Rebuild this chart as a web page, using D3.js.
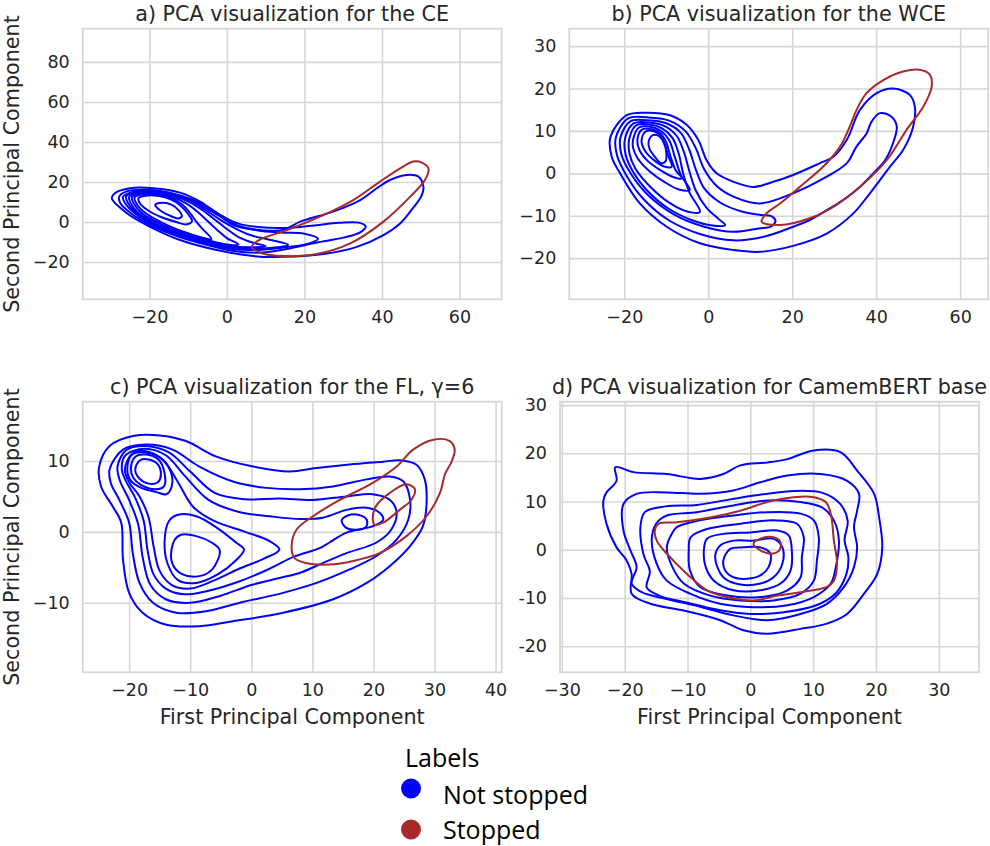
<!DOCTYPE html>
<html><head><meta charset="utf-8">
<script src="https://cdn.jsdelivr.net/npm/d3@7"></script>
<style>body{margin:0;background:#fff}svg{display:block}</style>
</head><body><svg id="chart" width="990" height="846"></svg>
<script>
// ---------- DATA (contour rings in data coordinates) ----------
const hueLabels = ["Not stopped", "Stopped"];

const ceXTicks = [-20, 0, 20, 40, 60];
const ceYTicks = [-20, 0, 20, 40, 60, 80];
const wceXTicks = [-20, 0, 20, 40, 60];
const wceYTicks = [-20, -10, 0, 10, 20, 30];
const flXTicks = [-20, -10, 0, 10, 20, 30, 40];
const flYTicks = [-10, 0, 10];
const camXTicks = [-30, -20, -10, 0, 10, 20, 30];
const camYTicks = [-20, -10, 0, 10, 20, 30];

const ceNotStopped = [
 [[-29.7,11.9],[-28.9,14.4],[-25,16.9],[-19,16.9],[-12.1,14.7],[-6.9,10.2],[-2.6,4.4],[1.7,-1.5],[8.6,-4],[14.6,-4],[18.9,0.2],[27.4,5.2],[34.4,11],[38.7,16.9],[42.1,21],[46.4,23.5],[49.4,22.7],[50.7,17.7],[50.3,13.5],[47.3,5.2],[44.7,-0.7],[40.4,-6.5],[33.5,-12.4],[25.8,-15.7],[14.6,-17.4],[6.8,-17],[-2.6,-14],[-12.1,-9],[-19.8,-2.4],[-25.8,4.4]],
 [[-27.8,12.6],[-26,15.2],[-20,16],[-14,14.3],[-9,11.3],[-5,7.5],[-1,2.8],[3,-0.8],[8,-2.5],[15,-3],[22,-1.8],[29,-0.4],[34,-0.3],[35.8,-2.2],[34.5,-5],[30,-7.8],[23,-10.3],[15,-13.6],[8,-15.3],[1,-14.2],[-5,-11.5],[-12,-7.6],[-19,-2.3],[-24.5,4],[-27.5,9.5]],
 [[-26.8,12.6],[-24,15.2],[-19,15.5],[-14,14],[-9,10.8],[-5,6.5],[-1,2],[3,-2],[8,-4.2],[14,-5.2],[20,-5.8],[23.5,-8.3],[21,-10.8],[14,-12.8],[7,-14],[1,-13.3],[-5,-10.8],[-12,-7],[-18.5,-2],[-23.5,4],[-26.3,9.5]],
 [[-26,12.8],[-23,15],[-18.5,15],[-13.5,13.5],[-9,10.3],[-5.5,6],[-2,1.5],[2,-3],[6,-6.5],[11,-8.8],[15.8,-11.3],[13,-12.6],[7,-13.3],[1,-12.6],[-5,-10.2],[-12,-6.5],[-18,-1.8],[-23,4],[-25.5,9.5]],
 [[-25.2,12.7],[-22.5,14.7],[-18,14.7],[-13.5,13],[-9.5,9.8],[-6,5.5],[-3,1],[0,-3.5],[3,-7.5],[7,-10.5],[10,-12],[6,-12.6],[0,-11.8],[-5,-9.6],[-11.5,-6],[-17.5,-1.5],[-22.5,4],[-24.8,9.3]],
 [[-24.5,12.6],[-22,14.3],[-18,14.2],[-14,12.5],[-10.5,9.3],[-7.5,5],[-5,0.5],[-2.5,-4],[0,-8],[3,-11.2],[0,-11.2],[-5,-9],[-11,-5.5],[-17,-1],[-21.8,4.2],[-24,9.2]],
 [[-23.8,12.4],[-21.5,13.9],[-18,13.8],[-14.5,12],[-11.5,8.8],[-9.5,4.5],[-8,0.5],[-6.5,-3],[-4,-8.5],[-7,-7.5],[-11,-5],[-16.5,-0.5],[-21,4.5],[-23.3,9.2]],
 [[-22.8,12],[-20.5,13.3],[-17.5,13],[-14.5,11.3],[-12,8.3],[-10,4],[-9,0.5],[-10.5,-1.2],[-13,0],[-17,2.5],[-20.5,6],[-22.5,9.5]],
 [[-18.5,8.5],[-16.5,9.6],[-14.2,8.6],[-12.5,6],[-11.6,3],[-12.5,1.8],[-14.5,3],[-17,5.5]]
];
const ceStopped = [
 [[6.4,-12.4],[8.5,-8.8],[15.5,-4],[24,2.7],[32.6,11],[39.5,20.2],[44.7,26.8],[48.1,30.2],[50.3,29.7],[52,26.8],[51.1,21],[47.3,12.7],[40.4,0.2],[31.8,-10.7],[23.2,-16],[14.6,-17],[9,-15.6]]
];

const wceNotStopped = [
 [[-23.3,8.6],[-19.4,13.7],[-14.7,14.3],[-9.1,13.7],[-5.1,11.4],[-2.4,7.9],[-0.4,3.1],[2,0],[6,-2],[10.7,-3.2],[15.5,-2],[20.2,-0.4],[26.6,2.4],[29.8,3.9],[33,7.9],[36.1,14.9],[40.1,18.9],[44,20],[48,18.5],[49.2,15.7],[48.8,11],[46.4,5.5],[43.3,1.6],[38.5,-4.7],[34.5,-9.5],[28.2,-14.2],[20.2,-17.1],[12.3,-18.5],[6,-18.1],[-2,-16.5],[-9.9,-12.6],[-16.3,-7.1],[-21,0],[-23,3.9]],
 [[-22,8.5],[-19,13],[-14.5,13.2],[-9.5,12.5],[-5.5,10],[-3,6],[-1,1],[2,-3],[6,-5.5],[12.3,-7.1],[20.2,-4.7],[28.2,-0.8],[33,2.4],[35.3,6.3],[37.7,9.4],[38.9,12.2],[40.9,14.2],[43.7,13.3],[44.9,11],[44,7.1],[42.1,3.1],[39.3,0],[36.1,-3.2],[32.1,-6.3],[28.2,-8.7],[24.2,-11],[20.2,-12.6],[13,-15],[6,-15.8],[-2,-14.3],[-9.5,-11],[-15.5,-6],[-19.5,-0.5],[-21.8,4.5]],
 [[-20.9,8.5],[-18.5,12.3],[-14.5,12.5],[-10,11.8],[-6.5,9.5],[-4.5,5.5],[-3,1],[-1,-3.5],[3,-7],[8,-9],[12.5,-9.8],[15,-10.1],[16,-11.2],[15,-12.5],[12,-13],[6,-13.8],[-1,-12.6],[-8,-9.8],[-14.5,-5],[-18.5,0],[-20.7,4.5]],
 [[-19.8,8.3],[-17.8,11.8],[-14.3,12],[-10.5,11.2],[-7.5,8.8],[-5.8,5],[-4.5,0.5],[-3,-4],[-0.5,-8],[2.5,-10.8],[4,-12.2],[1,-12.3],[-4,-11],[-9.5,-8.3],[-14.8,-3.8],[-18,0.5],[-19.7,4.5]],
 [[-18.8,8.2],[-17.2,11.3],[-14,11.5],[-11,10.6],[-8.5,8.3],[-7,4.5],[-6,0],[-4.5,-4.5],[-2,-9.1],[-5,-9],[-9.5,-6.8],[-14,-3],[-17.3,1],[-18.8,4.8]],
 [[-17.9,8],[-16.5,10.8],[-13.8,11],[-11.3,10],[-9.3,7.8],[-8,4],[-6.5,-0.5],[-4.4,-3.9],[-7,-3.8],[-10.5,-2],[-14,0.5],[-16.8,3.5],[-17.9,6]],
 [[-16.9,7.8],[-15.8,10.3],[-13.5,10.4],[-11.5,9.5],[-10,7.3],[-9,4],[-7.8,0.8],[-6.3,-1.2],[-8.5,-0.8],[-11.5,0.8],[-14.5,3],[-16.4,5.5]],
 [[-15.9,7.6],[-15,9.8],[-13.2,10],[-11.5,9],[-10.4,7],[-9.6,4.3],[-8.7,1.6],[-10.5,1.6],[-12.8,3],[-15,5.2]],
 [[-14.2,7.5],[-13.2,9],[-11.8,8.8],[-10.6,7.2],[-10,5],[-10.2,2.8],[-11.3,2.4],[-12.8,4],[-14,5.8]]
];
const wceStopped = [
 [[12.7,-11.4],[13.9,-9.4],[17.1,-7.1],[21.8,-3.2],[27.4,1.6],[31.4,6.3],[33.7,11],[35.3,14.9],[37.7,18.9],[41.7,22],[46.4,24],[50.4,24.4],[52.8,23.2],[53.2,20.4],[51.2,15.7],[47.2,10.2],[42.5,3.1],[36.1,-3.2],[29.8,-7.9],[24.2,-10.6],[17.1,-12.2]]
];

const flNotStopped = [
 [[-24.9,9.2],[-23.2,12.1],[-19.4,13.5],[-15,13.6],[-10.7,12.8],[-5.7,10.6],[0.3,9.2],[6.3,8.5],[10.7,9],[16.1,9.5],[21.6,9.9],[24.3,10.1],[27,9.5],[28.4,7.4],[28.7,4.1],[28.1,0.8],[26,-2],[22.7,-4.8],[18.9,-7.2],[13.4,-9.5],[5.2,-11.4],[-3,-12.6],[-8.5,-13.3],[-13.9,-13.1],[-17.8,-11.4],[-20,-8.6],[-21,-3.9],[-21.3,1.3],[-22.7,3.6],[-24.6,6.4]],
 [[-23.2,8.8],[-21,11.6],[-17.2,12.3],[-12.9,11.6],[-8.5,9.2],[-3,7.1],[2.5,6.2],[7.9,6],[13.4,6.4],[18.9,7.4],[22.7,7.8],[24.9,7.1],[26,4.5],[25.7,1.7],[23.8,-1.1],[20.5,-3.4],[16.1,-5.3],[10.7,-7.2],[5.2,-8.6],[-1.9,-10],[-7.4,-11.2],[-12.3,-11.4],[-16.1,-10],[-18.3,-7.2],[-19.4,-3],[-20,1.3],[-21.6,4.5],[-23,6.9]],
 [[-21.9,9.2],[-20.5,11.5],[-17.5,12.1],[-13.5,11.2],[-10,8.5],[-6,5.5],[-1,4.6],[4.6,4.7],[10.1,4.5],[15.6,5],[19.9,5.3],[22.7,4.5],[23.8,2.7],[22.9,0.3],[20.5,-1.5],[15.6,-3],[11.7,-4.4],[7.9,-5.8],[4.6,-6.5],[0,-7.5],[-5,-9],[-10,-10],[-14,-9.5],[-16.5,-7.5],[-17.8,-3.5],[-18.5,1],[-20,4.5],[-21.5,7.2]],
 [[-21.2,8.8],[-20.6,10.8],[-17.5,11.7],[-14,10.8],[-11,8],[-7,4.5],[-2,2.8],[3,2.2],[8,1.8],[11.7,2],[15.6,3.1],[18.9,3.4],[21,2.7],[21.6,1.7],[19.9,0.8],[15.6,-0.1],[12.8,-1.5],[11.2,-2.3],[7,-3.5],[3,-5.2],[-2,-7],[-7,-8.3],[-11,-8.8],[-14,-8],[-16,-6],[-17,-2.5],[-17.6,1.5],[-19,4.8],[-20.6,7.3]],
 [[-20.7,8.8],[-19.5,11],[-17.5,11.4],[-14.5,10.2],[-12,7],[-9.5,3.5],[-6,1.5],[-1,0],[3,-1.3],[4.6,-2.5],[2,-3.8],[-2,-5.2],[-6,-6.8],[-10,-8],[-13,-7.5],[-15,-5.5],[-16,-2],[-16.8,2],[-18.3,5],[-20,7]],
 [[14.8,1.6],[15.8,2.3],[17.5,2.4],[18.9,1.7],[18.8,0.7],[17.2,0.3],[15.5,0.6]],
 [[-14.2,-1.5],[-13.5,1.5],[-12,2.4],[-9,2.2],[-5.5,0.5],[-2.5,-1.5],[-1.2,-2.5],[-2.5,-4],[-5.5,-6],[-9,-7.2],[-12,-6.8],[-13.7,-4.5]],
 [[-13.1,-3.9],[-12.6,-1.2],[-11.5,-0.4],[-9,-0.6],[-6.5,-1.5],[-5.2,-2.5],[-5.6,-4.2],[-7.1,-5.8],[-9.8,-6.3],[-12,-5.6]],
 [[-20.3,9],[-19.5,10.9],[-17.5,11.2],[-15,10.5],[-13.2,8.5],[-13,6.5],[-13.9,5.3],[-15.5,5.6],[-18,6.2],[-19.8,7.3]],
 [[-19.7,8.9],[-19,10.6],[-17.3,10.9],[-15.2,10.2],[-14.2,8.3],[-14.3,6.4],[-15.7,6],[-18,6.6],[-19.3,7.6]],
 [[-19,8.8],[-18.2,10.1],[-16.8,10.2],[-15.3,9.5],[-14.8,8],[-15.3,7],[-16.8,6.8],[-18.3,7.5]]
];
const flStopped = [
 [[6.6,-2],[7.4,0.3],[10.1,2.2],[14.5,4.5],[19.9,6.9],[23.8,9.2],[26.5,11.6],[29.8,13],[32.5,12.8],[33.3,11.6],[32.8,9.9],[31.7,8.1],[30.9,5.5],[28.7,2.2],[25.4,-0.6],[21,-3],[16.7,-4.1],[12.8,-4.6],[9,-4.4],[7.1,-3.7]],
 [[19.9,1.7],[20.4,3.6],[22.7,5.5],[25.4,6.7],[26.8,6],[26.2,4.5],[24.3,3.1],[21.6,1.3],[20.2,1]]
];

const camNotStopped = [
 [[-21.5,17.1],[-18.6,16.1],[-13.3,15.7],[-8,14.7],[-4.3,15.7],[-1.6,17.5],[2.7,18.1],[5.9,18.8],[10.1,20.6],[14.4,20.2],[17,16.4],[19.7,11.6],[20.5,6.7],[21,0.5],[20.2,-5],[18.1,-9.1],[15.4,-13.3],[12.2,-15.3],[8,-16.4],[2.7,-17.4],[-1.1,-16.7],[-4.8,-14.6],[-10.6,-12.6],[-15.9,-11.2],[-18.9,-9.1],[-18.9,-5],[-19.7,-2.2],[-21.3,0.5],[-22.9,5.4],[-23.4,10.2],[-22.9,11.9],[-21.3,14.3]],
 [[-20.2,9.5],[-18.1,11.6],[-13.3,11.9],[-8,11.6],[-2.7,12.3],[1.6,14],[5.9,15.4],[11.2,15.7],[15.4,14.3],[17.3,11.6],[17,8.1],[16.5,4.7],[17,0.5],[16.5,-3.6],[14.9,-7.7],[12.2,-11.2],[8,-13.3],[2.7,-14.6],[-2.7,-13.6],[-8,-11.8],[-13.3,-10.2],[-17.3,-8.8],[-18.9,-7],[-18.1,-3.6],[-19.1,-0.1],[-20.2,4]],
 [[-17.5,4.7],[-16.8,7.8],[-13.5,9],[-8.5,9.3],[-3,10.5],[2,11.5],[7,12.2],[11.5,11.8],[14.3,9.5],[15.5,6],[15,2],[15.6,-1.5],[15.3,-5],[13.6,-9],[10.5,-11.5],[5,-13],[0,-13.3],[-5,-12.5],[-10,-11],[-14.5,-9.5],[-16.5,-7.8],[-16,-4.5],[-17,-1]],
 [[-15.7,1.9],[-15,5.4],[-13.3,7.1],[-8.5,7.8],[-2.7,9.2],[2.7,10.2],[8,9.9],[11.4,8.8],[13.3,6.1],[14.1,1.9],[13.6,-3.6],[12.8,-7],[10.1,-9.8],[5.9,-11.5],[0.5,-11.9],[-4.8,-11.2],[-9.6,-9.1],[-13.3,-6.4],[-14.9,-2.9]],
 [[-13.3,0.5],[-12.5,3.3],[-11.7,4.7],[-8,6.1],[-2.7,7.1],[2.7,7.8],[8,7.5],[10.1,6.1],[10.9,2.6],[10.6,-2.2],[10.1,-6.4],[8,-9.1],[3.7,-10.5],[-1.6,-10.5],[-6.4,-9.5],[-10.6,-7],[-12.4,-3.6]],
 [[-9.8,-0.1],[-9.5,2.6],[-6.9,4.3],[-1.6,5.4],[3.7,6.1],[7.4,5.4],[8.5,2.6],[8.2,-1.5],[8,-5.7],[5.9,-8.4],[1.6,-9.8],[-3.7,-9.5],[-8,-7.7],[-9.6,-4.3]],
 [[-7.4,-0.1],[-6.9,2.3],[-4.3,3.3],[0,3.6],[4.3,4],[6.1,3],[6.6,-0.1],[6.4,-4.3],[4.8,-7],[1.6,-8.4],[-2.7,-8.4],[-5.8,-6.4],[-7.1,-3.6]],
 [[-5.6,-1.5],[-4.8,0.9],[-2.7,1.9],[0.5,1.9],[3.7,2.3],[5.1,0.5],[5.1,-2.9],[3.7,-5.7],[1.6,-7],[-1.6,-7.2],[-4.3,-5.7]],
 [[-4.3,-2.2],[-3.2,0.2],[-1.1,0.5],[1.6,0.5],[3.2,-0.8],[2.9,-3.6],[1.6,-5.3],[-0.5,-6],[-2.7,-5.7],[-4,-4.3]]
];
const camStopped = [
 [[-15.2,4],[-14.6,5.4],[-11.7,5.7],[-6.4,6.7],[-1.6,8.1],[2.7,9.9],[6.9,10.9],[10.1,10.9],[12,9.9],[12.8,7.5],[13.3,1.9],[13.8,-2.9],[13.3,-6.4],[12.2,-7.7],[8,-8.8],[4.3,-9.5],[0.5,-10.5],[-3.7,-9.8],[-6.9,-8.4],[-10.1,-5],[-13.3,-0.8],[-14.9,1.9]],
 [[0.5,1.2],[1.6,2.3],[3.7,2.6],[4.8,1.6],[4.6,-0.1],[3.2,-0.8],[1.6,-0.1]]
];

// ---------- LAYOUT ----------
const COLORS = {blue: "#0000ff", red: "#a52a2a", text: "#262626", grid: "#d6d6d6"};
const FONT = "'DejaVu Sans', sans-serif";

const panels = [
 {title: "a) PCA visualization for the CE", box: [82.7, 28.7, 501.7, 299.3], xd: [-37.2, 70.9], yd: [-38.6, 96.6],
  xt: ceXTicks, yt: ceYTicks, blue: ceNotStopped, red: ceStopped, ylab: true, xlab: false, hyphenY: false},
 {title: "b) PCA visualization for the WCE", box: [569.3, 28.7, 988.3, 299.3], xd: [-33.1, 66.7], yd: [-29.7, 34.1],
  xt: wceXTicks, yt: wceYTicks, blue: wceNotStopped, red: wceStopped, ylab: false, xlab: false, hyphenY: false},
 {title: "c) PCA visualization for the FL, \u03b3=6", box: [82.7, 401.7, 501.7, 672.3], xd: [-27.6, 41.0], yd: [-19.8, 18.35],
  xt: flXTicks, yt: flYTicks, blue: flNotStopped, red: flStopped, ylab: true, xlab: true, hyphenY: false},
 {title: "d) PCA visualization for CamemBERT base", box: [560, 401.7, 979, 672.3], xd: [-30.3, 36.4], yd: [-25.4, 30.7],
  xt: camXTicks, yt: camYTicks, blue: camNotStopped, red: camStopped, ylab: false, xlab: true, hyphenY: true}
];

const svg = d3.select("#chart");
svg.append("rect").attr("width", 990).attr("height", 846).attr("fill", "#fff");

function fmt(v, hyphen) {
  if (v < 0) return (hyphen ? "-" : "\u2212") + Math.abs(v);
  return String(v);
}

panels.forEach((p, i) => {
  const [x0, y0, x1, y1] = p.box;
  const w = x1 - x0, h = y1 - y0;
  const x = d3.scaleLinear().domain(p.xd).range([0, w]);
  const y = d3.scaleLinear().domain(p.yd).range([h, 0]);
  const g = svg.append("g").attr("transform", `translate(${x0},${y0})`);

  // grid + tick labels through d3 axes
  const gx = g.append("g").attr("transform", `translate(0,${h})`)
    .call(d3.axisBottom(x).tickValues(p.xt).tickSize(-h).tickPadding(11.5).tickFormat(v => fmt(v, false)));
  const gy = g.append("g")
    .call(d3.axisLeft(y).tickValues(p.yt).tickSize(-w).tickPadding(13).tickFormat(v => fmt(v, p.hyphenY)));
  [gx, gy].forEach(a => {
    a.select(".domain").remove();
    a.selectAll(".tick line").attr("stroke", COLORS.grid).attr("stroke-width", 1.6);
    a.selectAll(".tick text").attr("fill", COLORS.text).style("font-family", FONT).style("font-size", "17.5px");
  });

  // frame
  g.append("rect").attr("width", w).attr("height", h).attr("fill", "none")
    .attr("stroke", COLORS.grid).attr("stroke-width", 1.8);

  // contours
  const clipId = "clip" + i;
  g.append("clipPath").attr("id", clipId).append("rect").attr("width", w).attr("height", h);
  const line = d3.line().x(d => x(d[0])).y(d => y(d[1])).curve(d3.curveCatmullRomClosed.alpha(0.5));
  const cg = g.append("g").attr("clip-path", `url(#${clipId})`);
  cg.selectAll("path.blue").data(p.blue).join("path").attr("class", "blue")
    .attr("d", line).attr("fill", "none").attr("stroke", COLORS.blue).attr("stroke-width", 2)
    .attr("stroke-linejoin", "round");
  cg.selectAll("path.red").data(p.red).join("path").attr("class", "red")
    .attr("d", line).attr("fill", "none").attr("stroke", COLORS.red).attr("stroke-width", 2)
    .attr("stroke-linejoin", "round");

  // title
  svg.append("text").attr("x", x0 + w / 2).attr("y", y0 - 8).attr("text-anchor", "middle")
    .attr("fill", COLORS.text).style("font-family", FONT).style("font-size", "20.7px").text(p.title);

  if (p.ylab) {
    svg.append("text").attr("transform", `translate(18.5,${y0 + h / 2}) rotate(-90)`)
      .attr("text-anchor", "middle").attr("fill", COLORS.text)
      .style("font-family", FONT).style("font-size", "20.7px").text("Second Principal Component");
  }
  if (p.xlab) {
    svg.append("text").attr("x", x0 + w / 2).attr("y", 724).attr("text-anchor", "middle")
      .attr("fill", COLORS.text).style("font-family", FONT).style("font-size", "20.7px").text("First Principal Component");
  }
});

// legend
const lg = svg.append("g");
lg.append("text").attr("x", 405).attr("y", 767).attr("fill", "#000")
  .style("font-family", "'Open Sans', sans-serif").style("font-size", "25px").text("Labels");
const legendColors = [COLORS.blue, COLORS.red];
hueLabels.forEach((lab, i) => {
  const cy = 788.5 + i * 41;
  lg.append("circle").attr("cx", 411).attr("cy", cy).attr("r", 10).attr("fill", legendColors[i]);
  lg.append("text").attr("x", 443).attr("y", 803.5 + i * 35).attr("fill", "#000")
    .style("font-family", "'Open Sans', sans-serif").style("font-size", "25px").text(lab);
});
</script></body></html>
